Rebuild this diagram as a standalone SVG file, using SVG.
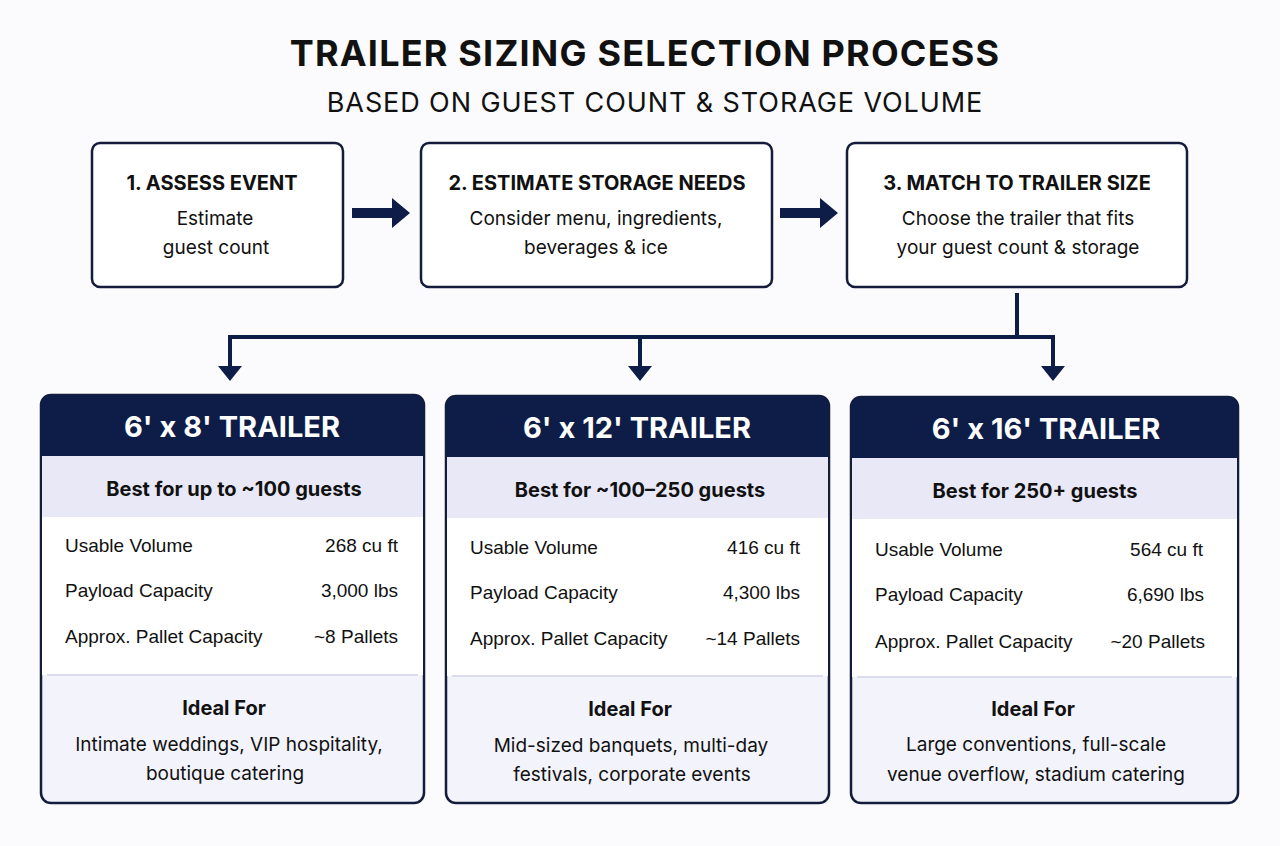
<svg xmlns="http://www.w3.org/2000/svg" width="1280" height="846" viewBox="0 0 1280 846">
<defs>
<style>
text{font-family:Inter,"Open Sans","Liberation Sans",sans-serif;fill:#111}
.t{font-weight:700;font-size:36px;letter-spacing:1.2px}
.st{font-size:27px;letter-spacing:0.9px}
.bx{fill:#fff;stroke:#141c3c;stroke-width:2.5}
.bh{font-weight:700;font-size:20px}
.bt{font-size:19px}
.card{fill:#f3f3fb;stroke:#141c3c;stroke-width:2.5}
.hd{fill:#0e1d48}
.ht{font-weight:700;font-size:29px;fill:#fff}
.band{fill:#e8e8f7}
.bf{font-weight:700;font-size:20px}
.r{font-family:"Liberation Sans",Arial,sans-serif;font-size:19px}
.rv{font-family:"Liberation Sans",Arial,sans-serif;font-size:19px;text-anchor:end}
.c{text-anchor:middle}
.ln{stroke:#0e1d48;stroke-width:4;fill:none}
</style>
</defs>
<rect width="1280" height="846" fill="#fbfbfd"/>
<text class="t c" x="645" y="66">TRAILER SIZING SELECTION PROCESS</text>
<text class="st c" x="655" y="112">BASED ON GUEST COUNT &amp; STORAGE VOLUME</text>

<g id="step1"><rect class="bx" x="92" y="143" width="251" height="144" rx="8"/>
<text class="bh c" x="212" y="190">1. ASSESS EVENT</text>
<text class="bt c" x="215" y="225">Estimate</text><text class="bt c" x="216" y="254">guest count</text></g>
<g id="step2"><rect class="bx" x="421" y="143" width="351" height="144" rx="8"/>
<text class="bh c" x="597" y="190">2. ESTIMATE STORAGE NEEDS</text>
<text class="bt c" x="596" y="225">Consider menu, ingredients,</text><text class="bt c" x="596" y="254">beverages &amp; ice</text></g>
<g id="step3"><rect class="bx" x="847" y="143" width="340" height="144" rx="8"/>
<text class="bh c" x="1017" y="190">3. MATCH TO TRAILER SIZE</text>
<text class="bt c" x="1018" y="225">Choose the trailer that fits</text><text class="bt c" x="1018" y="254">your guest count &amp; storage</text></g>

<g id="connectors">
<path d="M352,208H392V198L410,213L392,228V218H352z" fill="#0e1d48"/>
<path d="M780,208H820V198L838,213L820,228V218H780z" fill="#0e1d48"/>
<path class="ln" d="M1017,293V337M230,337H1053M230,335V368M640,335V368M1053,335V368"/>
<path d="M218,366L230,381L242,366z M628,366L640,381L652,366z M1041,366L1053,381L1065,366z" fill="#0e1d48"/>
</g>

<g id="card1">
<rect class="card" x="41" y="395" width="383" height="408" rx="10"/>
<path class="hd" d="M41,456V405a10,10 0 0 1 10,-10H414a10,10 0 0 1 10,10V456z"/>
<rect class="band" x="42" y="456" width="381" height="61"/>
<rect fill="#fff" x="42" y="517" width="381" height="158"/>
<line x1="47" y1="675" x2="418" y2="675" stroke="#dcdcee" stroke-width="2"/>
<text class="ht c" x="232" y="437">6' x 8' TRAILER</text>
<text class="bf c" x="234" y="496">Best for up to ~100 guests</text>
<text class="r" x="65" y="552">Usable Volume</text><text class="rv" x="398" y="552">268 cu ft</text>
<text class="r" x="65" y="597">Payload Capacity</text><text class="rv" x="398" y="597">3,000 lbs</text>
<text class="r" x="65" y="643">Approx. Pallet Capacity</text><text class="rv" x="398" y="643">~8 Pallets</text>
<text class="bf c" x="224" y="715">Ideal For</text>
<text class="bt c" x="229" y="751">Intimate weddings, VIP hospitality,</text>
<text class="bt c" x="225" y="780">boutique catering</text>
</g>
<g id="card2">
<rect class="card" x="446" y="396" width="383" height="407" rx="10"/>
<path class="hd" d="M446,457V406a10,10 0 0 1 10,-10H819a10,10 0 0 1 10,10V457z"/>
<rect class="band" x="447" y="457" width="381" height="61"/>
<rect fill="#fff" x="447" y="518" width="381" height="158"/>
<line x1="452" y1="676" x2="823" y2="676" stroke="#dcdcee" stroke-width="2"/>
<text class="ht c" x="637" y="438">6' x 12' TRAILER</text>
<text class="bf c" x="640" y="497">Best for ~100–250 guests</text>
<text class="r" x="470" y="554">Usable Volume</text><text class="rv" x="800" y="554">416 cu ft</text>
<text class="r" x="470" y="599">Payload Capacity</text><text class="rv" x="800" y="599">4,300 lbs</text>
<text class="r" x="470" y="645">Approx. Pallet Capacity</text><text class="rv" x="800" y="645">~14 Pallets</text>
<text class="bf c" x="630" y="716">Ideal For</text>
<text class="bt c" x="631" y="752">Mid-sized banquets, multi-day</text>
<text class="bt c" x="632" y="781">festivals, corporate events</text>
</g>
<g id="card3">
<rect class="card" x="851" y="397" width="387" height="406" rx="10"/>
<path class="hd" d="M851,458V407a10,10 0 0 1 10,-10H1228a10,10 0 0 1 10,10V458z"/>
<rect class="band" x="852" y="458" width="385" height="61"/>
<rect fill="#fff" x="852" y="519" width="385" height="158"/>
<line x1="857" y1="677" x2="1232" y2="677" stroke="#dcdcee" stroke-width="2"/>
<text class="ht c" x="1046" y="439">6' x 16' TRAILER</text>
<text class="bf c" x="1035" y="498">Best for 250+ guests</text>
<text class="r" x="875" y="556">Usable Volume</text><text class="rv" x="1203" y="556">564 cu ft</text>
<text class="r" x="875" y="601">Payload Capacity</text><text class="rv" x="1204" y="601">6,690 lbs</text>
<text class="r" x="875" y="648">Approx. Pallet Capacity</text><text class="rv" x="1205" y="648">~20 Pallets</text>
<text class="bf c" x="1033" y="716">Ideal For</text>
<text class="bt c" x="1036" y="751">Large conventions, full-scale</text>
<text class="bt c" x="1036" y="781">venue overflow, stadium catering</text>
</g>
</svg>
